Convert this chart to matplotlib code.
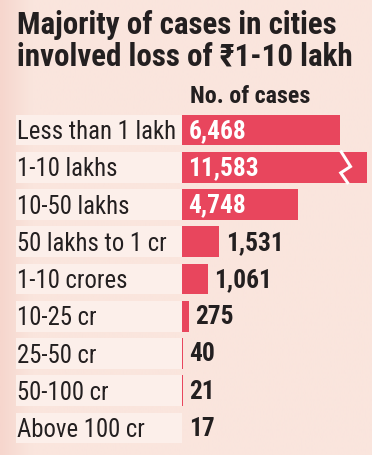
import numpy as np
import matplotlib.pyplot as plt
import matplotlib.font_manager as fm
from matplotlib.patches import Rectangle
from matplotlib.transforms import blended_transform_factory

# ----------------------------
# Data
# ----------------------------
categories = [
    "Less than 1 lakh", "1-10 lakhs", "10-50 lakhs", "50 lakhs to 1 cr",
    "1-10 crores", "10-25 cr", "25-50 cr", "50-100 cr", "Above 100 cr",
]
cases = [6468, 11583, 4748, 1531, 1061, 275, 40, 21, 17]
value_labels = ["6,468", "11,583", "4,748", "1,531", "1,061", "275", "40", "21", "17"]

TITLE_LINES = ["Majority of cases in cities", "involved loss of \u20b91-10 lakh"]
SUBTITLE = "No. of cases"

# ----------------------------
# Style
# ----------------------------
BG = "#f9e3db"
BOX = "#fcefea"
BAR = "#e8465d"
DARK = "#231f20"
W, H, DPI = 372, 456, 100

X_MAX = 7780     # visible range of the value axis
X_CAP = 7570     # where the broken bar gets cut


def pick_font():
    names = {f.name for f in fm.fontManager.ttflist}
    for cand in ["Liberation Sans Narrow", "DejaVu Sans Condensed", "Roboto Condensed"]:
        if cand in names:
            return [cand, "DejaVu Sans"], "normal"
    cond = [f for f in fm.fontManager.ttflist
            if f.name == "DejaVu Sans" and "ondensed" in str(f.stretch)]
    if cond:
        return ["DejaVu Sans"], "condensed"
    return ["Roboto", "DejaVu Sans"], "normal"


FAMILY, STRETCH = pick_font()


def main():
    fig = plt.figure(figsize=(W / DPI, H / DPI), dpi=DPI)
    fig.patch.set_facecolor(BG)

    # soft gradient background, pinker on the left
    bg_ax = fig.add_axes([0, 0, 1, 1], zorder=-10)
    grad = np.linspace(0, 1, 256)[None, :]
    grad = np.clip(grad * 12, 0, 1)
    c0 = np.array([246, 214, 205]) / 255
    c1 = np.array([250, 229, 221]) / 255
    img = c0[None, None, :] * (1 - grad[..., None]) + c1[None, None, :] * grad[..., None]
    bg_ax.imshow(img, aspect="auto", extent=[0, 1, 0, 1])
    bg_ax.axis("off")

    # bar axes: x from 182px to right edge, rows 112px..448px from top
    left = 182 / W
    top_px, bot_px = 112.4, 447.6
    ax = fig.add_axes([left, (H - bot_px) / H, 1 - left, (bot_px - top_px) / H])
    ax.set_facecolor("none")
    ax.set_xlim(0, X_MAX)
    ax.set_ylim(len(categories) - 0.5, -0.5)
    ax.axis("off")

    y = np.arange(len(categories))
    shown = [min(v, X_CAP) for v in cases]
    ax.barh(y, shown, height=0.83, color=BAR, linewidth=0, zorder=2)

    # broken-bar zigzag on the truncated bar
    for i, v in enumerate(cases):
        if v > X_CAP:
            zx = X_CAP - 1050 + np.array([0, 380, -20, 260])
            zy = i + np.array([-0.415, -0.02, 0.15, 0.415])
            ax.plot(zx, zy, color="white", lw=2.2, zorder=3,
                    solid_joinstyle="miter")

    # label boxes on the left
    trans = blended_transform_factory(fig.transFigure, ax.transData)
    for i, name in enumerate(categories):
        ax.add_patch(Rectangle((16 / W, i - 0.415), (182 - 16) / W, 0.83,
                               transform=trans, facecolor=BOX, edgecolor="none",
                               clip_on=False, zorder=1))
        ax.text(17 / W, i + 0.03, name, transform=trans, ha="left", va="center",
                fontsize=17.8, color=DARK, family=FAMILY, stretch=STRETCH)

    # values
    for i, (v, lab) in enumerate(zip(cases, value_labels)):
        inside = v > 3000
        ax.annotate(lab, (0 if inside else min(v, X_CAP), i),
                    xytext=(4.5, 0), textcoords="offset points",
                    ha="left", va="center", fontsize=18.3, fontweight="bold",
                    color="white" if inside else DARK,
                    family=FAMILY, stretch=STRETCH, zorder=4)

    for line, base in zip(TITLE_LINES, [34, 65]):
        fig.text(17 / W, 1 - base / H, line, ha="left", va="baseline",
                 fontsize=22.3, fontweight="bold", color=DARK,
                 family=FAMILY, stretch=STRETCH)
    fig.text(190 / W, 1 - 103 / H, SUBTITLE, ha="left", va="baseline",
             fontsize=17.3, fontweight="bold", color=DARK,
             family=FAMILY, stretch=STRETCH)

    fig.savefig("out.png", dpi=DPI, facecolor=fig.get_facecolor())


if __name__ == "__main__":
    main()
